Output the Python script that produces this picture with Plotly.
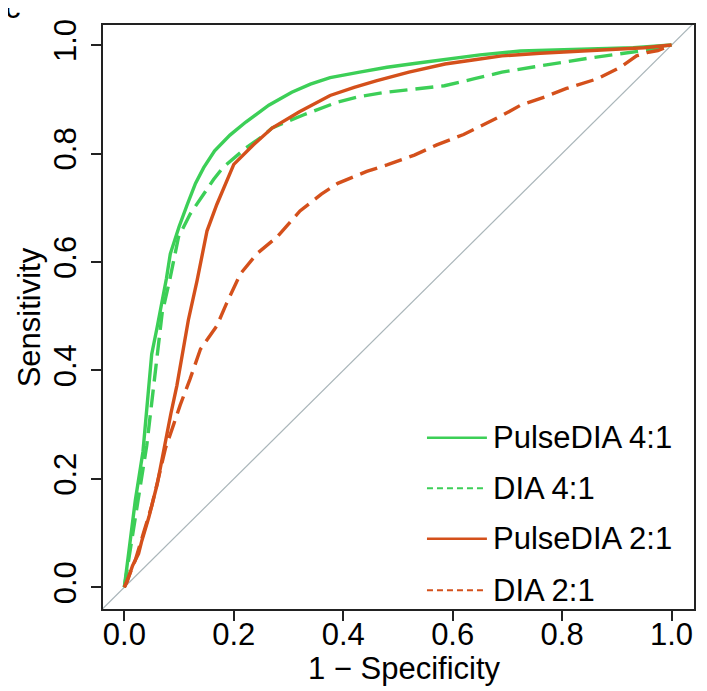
import plotly.graph_objects as go

# ROC curves (x = 1 - specificity, y = sensitivity)
pulse41_x = [0, 0.005, 0.011, 0.02, 0.034, 0.042, 0.05, 0.06, 0.069, 0.077, 0.084, 0.1, 0.115, 0.13, 0.145,
             0.165, 0.193, 0.222, 0.264, 0.306, 0.34, 0.376, 0.43, 0.48, 0.53, 0.585, 0.65, 0.724, 0.8, 0.865, 0.93, 1.0]
pulse41_y = [0, 0.04, 0.086, 0.16, 0.25, 0.34, 0.43, 0.48, 0.524, 0.57, 0.615, 0.665, 0.706, 0.745, 0.774,
             0.805, 0.834, 0.858, 0.889, 0.913, 0.928, 0.94, 0.95, 0.959, 0.966, 0.974, 0.982, 0.989, 0.991, 0.993, 0.995, 1.0]

dia41_x = [0, 0.006, 0.013, 0.025, 0.041, 0.053, 0.062, 0.069, 0.084, 0.099, 0.12, 0.145, 0.163, 0.18, 0.206, 0.222,
           0.25, 0.27, 0.3, 0.327, 0.39, 0.43, 0.478, 0.53, 0.585, 0.64, 0.69, 0.75, 0.796, 0.85, 0.9, 0.95, 1.0]
dia41_y = [0, 0.04, 0.086, 0.16, 0.262, 0.372, 0.45, 0.505, 0.572, 0.646, 0.688, 0.725, 0.752, 0.774, 0.797, 0.81,
           0.83, 0.847, 0.86, 0.871, 0.895, 0.905, 0.913, 0.919, 0.925, 0.938, 0.95, 0.96, 0.968, 0.976, 0.983, 0.99, 1.0]

pulse21_x = [0, 0.005, 0.015, 0.026, 0.032, 0.045, 0.06, 0.072, 0.085, 0.096, 0.107, 0.117, 0.133, 0.151, 0.169, 0.185,
             0.2, 0.236, 0.27, 0.32, 0.376, 0.42, 0.46, 0.52, 0.586, 0.64, 0.69, 0.76, 0.83, 0.9, 0.95, 1.0]
pulse21_y = [0, 0.01, 0.04, 0.062, 0.086, 0.13, 0.19, 0.256, 0.32, 0.372, 0.435, 0.493, 0.566, 0.657, 0.706, 0.745,
             0.78, 0.816, 0.847, 0.877, 0.907, 0.922, 0.934, 0.95, 0.965, 0.973, 0.98, 0.985, 0.989, 0.992, 0.995, 1.0]

dia21_x = [0, 0.008, 0.02, 0.035, 0.05, 0.062, 0.075, 0.09, 0.102, 0.12, 0.139, 0.169, 0.187, 0.212, 0.242, 0.279,
           0.321, 0.36, 0.39, 0.443, 0.48, 0.53, 0.571, 0.62, 0.655, 0.69, 0.724, 0.77, 0.808, 0.865, 0.906, 0.936,
           0.955, 0.975, 1.0]
dia21_y = [0, 0.02, 0.05, 0.1, 0.15, 0.2, 0.256, 0.3, 0.336, 0.384, 0.439, 0.482, 0.524, 0.578, 0.615, 0.646,
           0.694, 0.725, 0.745, 0.767, 0.779, 0.797, 0.816, 0.835, 0.852, 0.87, 0.889, 0.905, 0.92, 0.938, 0.959, 0.98,
           0.986, 0.99, 1.0]

names = ['PulseDIA 4:1', 'DIA 4:1', 'PulseDIA 2:1', 'DIA 2:1']
ticks = [0.0, 0.2, 0.4, 0.6, 0.8, 1.0]
tick_text = ['0.0', '0.2', '0.4', '0.6', '0.8', '1.0']

GREEN = '#3ccf57'
RED = '#d4501b'
FONT = 'Liberation Sans, Arial, sans-serif'
FS = 31
DASH = '18px,8px'

series = [
    (pulse41_x, pulse41_y, GREEN, 'solid'),
    (dia41_x, dia41_y, GREEN, DASH),
    (pulse21_x, pulse21_y, RED, 'solid'),
    (dia21_x, dia21_y, RED, DASH),
]

# page is shown with the browser's 8px body margin, so the figure is 8px smaller
OFF = 8
W, H = 707 - OFF, 691 - OFF
L, T = 102.7 - OFF, 19 - OFF
R, B = 12.7, 82
pw, ph = W - L - R, H - T - B


def px_x(p):
    # page pixel column -> paper x
    return (p - OFF - L) / pw


def px_y(p):
    # page pixel row -> paper y
    return (H - B - (p - OFF)) / ph


fig = go.Figure()

# chance line, spans the whole box like abline()
fig.add_shape(type='line', x0=-0.04, y0=-0.04, x1=1.04, y1=1.04, xref='x', yref='y',
              line=dict(color='#aab6ba', width=1.2), layer='below')

for (x, y, col, dash), name in zip(series, names):
    fig.add_trace(go.Scatter(x=x, y=y, mode='lines', name=name, showlegend=False,
                             line=dict(color=col, width=3.4, dash=dash)))

# hand-drawn legend, bottom right like R's legend()
leg_y = [436, 487, 538, 590]
leg_dash = ['solid', '6px,4px', 'solid', '6px,4px']
leg_col = [GREEN, GREEN, RED, RED]
for name, py, col, dash in zip(names, leg_y, leg_col, leg_dash):
    fig.add_shape(type='line', xref='paper', yref='paper',
                  x0=px_x(427), x1=px_x(487), y0=px_y(py), y1=px_y(py),
                  line=dict(color=col, width=2.5 if dash == 'solid' else 2, dash=dash))
    fig.add_annotation(text=name, xref='paper', yref='paper', x=px_x(491), y=px_y(py),
                       xanchor='left', yanchor='middle', showarrow=False,
                       font=dict(size=FS, color='black', family=FONT))

# axis titles and panel letter
fig.add_annotation(text='1 \u2212 Specificity', xref='paper', yref='paper', x=px_x(405), y=px_y(669),
                   xanchor='center', yanchor='middle', showarrow=False, font=dict(size=FS, color='black', family=FONT))
fig.add_annotation(text='Sensitivity', xref='paper', yref='paper', x=px_x(29), y=0.5, textangle=-90,
                   xanchor='center', yanchor='middle', showarrow=False, font=dict(size=FS, color='black', family=FONT))
fig.add_annotation(text='c', xref='paper', yref='paper', x=px_x(13), y=px_y(1),
                   xanchor='center', yanchor='middle', showarrow=False, font=dict(size=FS, color='black', family=FONT))

axis_common = dict(showgrid=False, zeroline=False, showline=True, mirror=True, linecolor='#222222', linewidth=2,
                   ticks='outside', ticklen=10, tickwidth=1.5, tickcolor='#222222',
                   tickvals=ticks, ticktext=tick_text, tickfont=dict(size=FS, color='black', family=FONT))

fig.update_xaxes(range=[-0.039, 1.041], ticklabelstandoff=-13, **axis_common)
fig.update_yaxes(range=[-0.04, 1.037], tickangle=-90, ticklabelstandoff=3, **axis_common)

fig.update_layout(width=W, height=H, margin=dict(l=L, r=R, t=T, b=B),
                  plot_bgcolor='white', paper_bgcolor='white', font=dict(family=FONT))

fig.write_html('out.html')
